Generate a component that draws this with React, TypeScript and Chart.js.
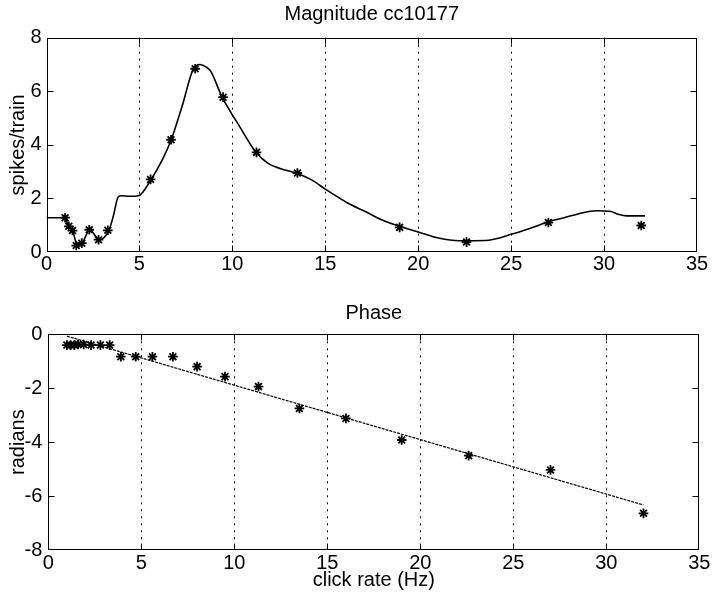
import React, { useEffect, useRef } from "react";
import { Chart, registerables } from "chart.js";

Chart.register(...registerables);

const FONT = '"Liberation Sans", Arial, Helvetica, sans-serif';

// Click rates (Hz) at which the response was measured
const freqHz = [1.0, 1.2, 1.4, 1.6, 1.9, 2.3, 2.8, 3.3, 3.9, 4.7, 5.6, 6.7, 8.0, 9.5, 11.3, 13.5, 16, 19, 22.6, 27, 32];
// Magnitude (spikes/train) markers; null where no marker is visible
const magnitudeSpikes = [1.28, 0.96, 0.8, 0.24, 0.33, 0.83, 0.46, 0.81, null, null, 2.71, 4.19, 6.84, 5.78, 3.72, 2.95, null, 0.92, 0.37, 1.1, 0.99];
// Phase (radians) markers
const phaseRad = [-0.4, -0.4, -0.4, -0.38, -0.38, -0.4, -0.4, -0.4, -0.83, -0.83, -0.83, -0.83, -1.2, -1.57, -1.94, -2.75, -3.12, -3.92, -4.5, -5.03, -6.64];

// Smooth magnitude curve
const curveX = [0, 1.0, 1.18, 1.41, 1.66, 1.92, 2.33, 2.83, 3.36, 3.6, 3.85, 4.0, 4.5, 4.95, 5.63, 6.2, 6.71, 7.3, 7.9, 8.26, 8.6, 8.84, 9.45, 10.28, 11.27, 11.9, 12.6, 13.42, 14.24, 15.0, 15.77, 16.2, 17.12, 18.03, 19.16, 20.0, 21.1, 22.2, 23.6, 25.1, 26.0, 27.1, 27.8, 28.6, 29.6, 30.3, 30.8, 31.2, 32.2];
const curveY = [1.28, 1.28, 0.96, 0.8, 0.24, 0.33, 0.83, 0.46, 0.81, 1.35, 2.05, 2.1, 2.08, 2.1, 2.71, 3.4, 4.19, 5.45, 6.84, 7.0, 6.9, 6.74, 5.78, 4.81, 3.72, 3.32, 3.11, 2.95, 2.7, 2.35, 2.01, 1.83, 1.52, 1.2, 0.92, 0.75, 0.52, 0.42, 0.43, 0.68, 0.88, 1.15, 1.27, 1.42, 1.54, 1.52, 1.4, 1.35, 1.35];

// Linear fit to phase
const fitX = [1.0, 32.0];
const fitY = [-0.07, -6.33];

const xTicks = [0, 5, 10, 15, 20, 25, 30, 35];
const magTicks = [0, 2, 4, 6, 8];
const phaseTicks = [-8, -6, -4, -2, 0];

const toXY = (xs: number[], ys: (number | null)[]) => xs.map((x, i) => ({ x, y: ys[i] }));

const framePlugin = {
  id: "frame",
  afterDatasetsDraw(chart: any) {
    const { ctx, chartArea, scales } = chart;
    const left = Math.round(chartArea.left) + 0.5;
    const right = Math.round(chartArea.right) - 0.5;
    const top = Math.round(chartArea.top) + 0.5;
    const bottom = Math.round(chartArea.bottom) - 0.5;
    ctx.save();
    ctx.strokeStyle = "#000";
    ctx.lineWidth = 1;
    ctx.setLineDash([]);
    ctx.strokeRect(left, top, right - left, bottom - top);
    const tl = 6;
    ctx.beginPath();
    scales.y.ticks.forEach((t: any) => {
      const y = Math.round(scales.y.getPixelForValue(t.value)) + 0.5;
      if (y <= top + 1 || y >= bottom - 1) return;
      ctx.moveTo(left, y);
      ctx.lineTo(left + tl, y);
      ctx.moveTo(right, y);
      ctx.lineTo(right - tl, y);
    });
    scales.x.ticks.forEach((t: any) => {
      const x = Math.round(scales.x.getPixelForValue(t.value)) + 0.5;
      if (x <= left + 1 || x >= right - 1) return;
      ctx.moveTo(x, bottom);
      ctx.lineTo(x, bottom - tl);
      ctx.moveTo(x, top);
      ctx.lineTo(x, top + tl);
    });
    ctx.stroke();
    ctx.restore();
  },
};

const tickFont = { family: FONT, size: 20, weight: "normal" as const };

function xScale(height: number, pad: number, title?: any) {
  return {
    type: "linear" as const,
    min: 0,
    max: 35,
    afterBuildTicks: (s: any) => {
      s.ticks = xTicks.map((v) => ({ value: v }));
    },
    ticks: { stepSize: 5, padding: pad, font: tickFont, color: "#000", maxRotation: 0, autoSkip: false },
    grid: {
      drawTicks: false,
      lineWidth: 1,
      color: (c: any) => (c.tick && (c.tick.value === 0 || c.tick.value === 35) ? "rgba(0,0,0,0)" : "#000"),
    },
    border: { display: false, dash: [2, 5] },
    title: title || { display: false },
    afterFit: (s: any) => {
      s.height = height;
    },
  };
}

function yScale(min: number, max: number, ticks: number[], width: number, pad: number, label: string) {
  return {
    type: "linear" as const,
    min,
    max,
    afterBuildTicks: (s: any) => {
      s.ticks = ticks.map((v) => ({ value: v }));
    },
    ticks: { stepSize: 2, padding: pad, font: tickFont, color: "#000" },
    grid: { display: false, drawTicks: false },
    border: { display: false },
    title: { display: true, text: label, color: "#000", font: tickFont, padding: { top: 6, bottom: 0 } },
    afterFit: (s: any) => {
      s.width = width;
    },
  };
}

export default function App() {
  const magRef = useRef<HTMLCanvasElement>(null);
  const phaseRef = useRef<HTMLCanvasElement>(null);

  useEffect(() => {
    const star = {
      pointStyle: "star" as const,
      pointRadius: 4.8,
      pointBorderWidth: 1.8,
      pointBorderColor: "#000",
      pointBackgroundColor: "#000",
      showLine: false,
      borderColor: "#000",
      backgroundColor: "#000",
    };

    const magChart = new Chart(magRef.current!, {
      type: "scatter",
      data: {
        datasets: [
          {
            data: toXY(curveX, curveY) as any,
            showLine: true,
            pointRadius: 0,
            borderColor: "#000",
            borderWidth: 1.6,
            cubicInterpolationMode: "monotone",
          },
          { data: toXY(freqHz, magnitudeSpikes) as any, ...star },
        ],
      },
      options: {
        responsive: false,
        animation: false,
        layout: { padding: { left: 0, right: 23, top: 0, bottom: 0 } },
        plugins: {
          legend: { display: false },
          tooltip: { enabled: false },
          title: {
            display: true,
            fullSize: false,
            text: "Magnitude cc10177",
            color: "#000",
            font: tickFont,
            padding: { top: 2.7, bottom: 11 },
          },
        },
        scales: {
          x: xScale(38, 0.6) as any,
          y: yScale(0, 8, magTicks, 46.5, 5, "spikes/train") as any,
        },
      },
      plugins: [framePlugin],
    });

    const phaseChart = new Chart(phaseRef.current!, {
      type: "scatter",
      data: {
        datasets: [
          {
            data: toXY(fitX, fitY) as any,
            showLine: true,
            pointRadius: 0,
            borderColor: "#000",
            borderWidth: 1.2,
            borderDash: [3, 1],
          },
          { data: toXY(freqHz, phaseRad) as any, ...star },
        ],
      },
      options: {
        responsive: false,
        animation: false,
        layout: { padding: { left: 0, right: 20.7, top: 0, bottom: 0 } },
        plugins: {
          legend: { display: false },
          tooltip: { enabled: false },
          title: {
            display: true,
            fullSize: false,
            text: "Phase",
            color: "#000",
            font: tickFont,
            padding: { top: 11.7, bottom: 8.6 },
          },
        },
        scales: {
          x: xScale(47, 1.7, {
            display: true,
            text: "click rate (Hz)",
            color: "#000",
            font: tickFont,
            padding: { top: 0, bottom: 4.3 },
          }) as any,
          y: yScale(-8, 0, phaseTicks, 48.3, 6, "radians") as any,
        },
      },
      plugins: [framePlugin],
    });

    return () => {
      magChart.destroy();
      phaseChart.destroy();
    };
  }, []);

  return (
    <div style={{ position: "absolute", left: 0, top: 0, width: 720, height: 597, background: "#fff" }}>
      <canvas ref={magRef} width={720} height={290} style={{ display: "block", width: 720, height: 290 }} />
      <canvas ref={phaseRef} width={720} height={307} style={{ display: "block", width: 720, height: 307 }} />
    </div>
  );
}
